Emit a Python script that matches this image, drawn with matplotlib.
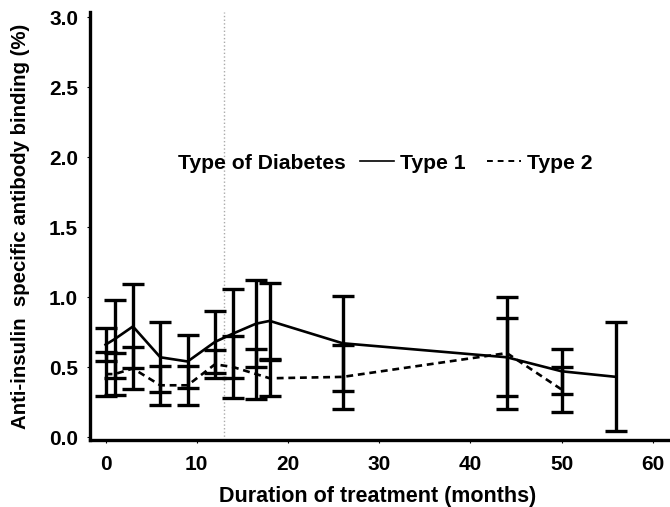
import matplotlib
matplotlib.use("Agg")
import matplotlib.pyplot as plt
from matplotlib.lines import Line2D

# ---- data ----
months_t1 = [0, 1, 3, 6, 9, 12, 14, 16.5, 18, 26, 44, 50, 56]
type1 = [0.66, 0.70, 0.79, 0.57, 0.54, 0.68, 0.74, 0.81, 0.83, 0.67, 0.57, 0.47, 0.43]
err_t1 = [0.12, 0.28, 0.30, 0.25, 0.19, 0.22, 0.32, 0.31, 0.27, 0.34, 0.28, 0.16, 0.39]

months_t2 = [0, 1, 3, 6, 9, 12, 14, 16.5, 18, 26, 44, 50]
type2 = [0.45, 0.45, 0.49, 0.37, 0.37, 0.52, 0.50, 0.45, 0.42, 0.43, 0.60, 0.34]
err_t2 = [0.16, 0.15, 0.15, 0.14, 0.14, 0.10, 0.22, 0.18, 0.13, 0.23, 0.40, 0.16]

vline_month = 13
xticks = [0, 10, 20, 30, 40, 50, 60]
yticks = [0.0, 0.5, 1.0, 1.5, 2.0, 2.5, 3.0]
series_labels = ["Type 1", "Type 2"]
legend_title = "Type of Diabetes"

plt.rcParams['font.family'] = ['Liberation Sans', 'DejaVu Sans']
plt.rcParams['font.weight'] = 'bold'

fig = plt.figure(figsize=(6.7, 5.07), dpi=100)
ax = fig.add_axes([0.1343, 0.1321, 0.8627, 0.8442])

ax.axvline(vline_month, color='#aaaaaa', lw=1.0, ls=':', zorder=1)

ax.errorbar(months_t1, type1, yerr=err_t1, color='black', lw=1.9,
            elinewidth=2.4, capsize=8, capthick=2.4, zorder=3)
ax.errorbar(months_t2, type2, yerr=err_t2, color='black', lw=1.9,
            ls=(0, (2.6, 1.8)), elinewidth=2.4, capsize=8, capthick=2.4, zorder=3)

ax.set_xlim(-1.71, 61.67)
ax.set_ylim(-0.021, 3.036)
ax.set_xticks(xticks)
ax.set_yticks(yticks)
ax.set_xticklabels([str(t) for t in xticks], fontsize=15, fontweight='bold')
ax.set_yticklabels([f"{t:.1f}" for t in yticks], fontsize=15, fontweight='bold')
ax.tick_params(axis='x', length=2, width=0.8, pad=9, colors='black')
ax.tick_params(axis='y', length=2, width=0.8, pad=6.5, colors='black')

for s in ['top', 'right']:
    ax.spines[s].set_visible(False)
for s in ['left', 'bottom']:
    ax.spines[s].set_linewidth(2.4)

ax.set_xlabel("Duration of treatment (months)", fontsize=15.5, fontweight='bold', va='center')
ax.set_ylabel("Anti-insulin  specific antibody binding (%)", fontsize=14.7,
              fontweight='bold', va='center')
ax.xaxis.set_label_coords(0.497, -0.131)
ax.yaxis.set_label_coords(-0.121, 0.5)

ax.text(7.94, 1.957, legend_title, fontsize=15.2, fontweight='bold',
        ha='left', va='center')
handles = [Line2D([], [], color='black', lw=1.2),
           Line2D([], [], color='black', lw=1.4, ls=(0, (3, 2.5)))]
leg = ax.legend(handles, series_labels, loc='center left',
                bbox_to_anchor=(0.467, 0.647), ncol=2, frameon=False,
                borderpad=0, borderaxespad=0, handlelength=1.6,
                handletextpad=0.3, columnspacing=1.0,
                prop={'size': 15.2, 'weight': 'bold'})

fig.savefig("out.png", dpi=100)
